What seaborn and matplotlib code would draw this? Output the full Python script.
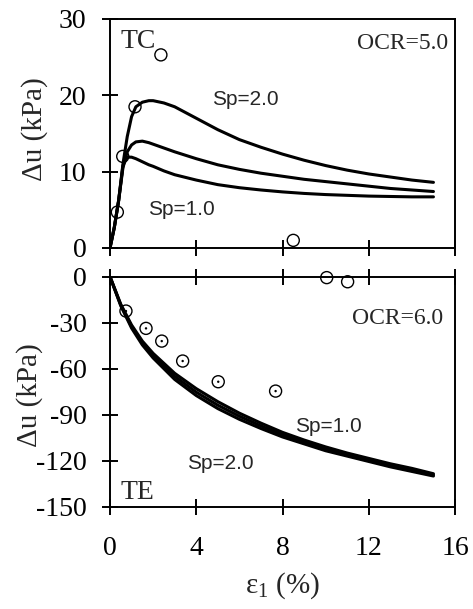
import numpy as np
import pandas as pd
import matplotlib
matplotlib.use("Agg")
import matplotlib.pyplot as plt
import seaborn as sns

# ---------------- data ----------------
tc_strain = [0, 0.2, 0.4, 0.6, 0.8, 1.0, 1.2, 1.5, 1.8, 2.0, 2.5, 3, 4, 5, 6, 7, 8, 9, 10, 11, 12, 13, 14, 15]
tc_sp20 = [0, 2.7, 6.2, 11.0, 14.6, 17.2, 18.5, 19.1, 19.3, 19.3, 19.0, 18.5, 17.0, 15.5, 14.2, 13.2, 12.3, 11.5, 10.8, 10.2, 9.7, 9.3, 8.9, 8.6]
tc_sp15 = [0, 2.7, 6.2, 10.5, 12.6, 13.5, 13.9, 14.0, 13.8, 13.6, 13.1, 12.6, 11.7, 10.9, 10.3, 9.8, 9.4, 9.0, 8.7, 8.4, 8.1, 7.8, 7.6, 7.4]
tc_sp10 = [0, 2.7, 6.2, 10.8, 11.9, 11.9, 11.7, 11.3, 10.9, 10.7, 10.1, 9.6, 8.9, 8.3, 7.9, 7.6, 7.35, 7.15, 7.0, 6.9, 6.8, 6.75, 6.7, 6.7]

tc_obs_x = [0.34, 0.59, 1.16, 2.36, 8.5]
tc_obs_y = [4.7, 12.0, 18.5, 25.3, 1.0]

te_strain = [0, 0.5, 1, 1.5, 2, 3, 4, 5, 6, 7, 8, 9, 10, 11, 12, 13, 14, 15]
te_sp10 = [0, -18, -31.5, -42, -50, -63, -73, -81.5, -89, -95.5, -101.5, -106.5, -111, -115, -118.5, -122, -125, -128.5]
te_sp15 = [0, -18.5, -32.5, -43.3, -51.5, -65, -75.3, -83.8, -91, -97.3, -103, -107.8, -112.3, -116, -119.5, -123, -126, -129.3]
te_sp20 = [0, -19, -33.5, -44.5, -53, -67, -77.5, -86, -93, -99, -104.5, -109, -113.5, -117, -120.5, -124, -127, -130]

te_open_x = [10.05, 11.02]
te_open_y = [-0.6, -3.3]
te_dot_x = [0.74, 1.67, 2.40, 3.37, 5.02, 7.68]
te_dot_y = [-22.4, -33.7, -42.0, -55.0, -68.5, -74.6]

x_ticks = [0, 4, 8, 12, 16]
tc_yticks = [0, 10, 20, 30]
te_yticks = [-150, -120, -90, -60, -30, 0]

# ---------------- style ----------------
sns.set_theme(style="ticks")
plt.rcParams['font.family'] = ['Liberation Serif', 'DejaVu Serif']
plt.rcParams['mathtext.fontset'] = 'custom'
plt.rcParams['mathtext.rm'] = 'Liberation Serif'
plt.rcParams['axes.unicode_minus'] = False

fig = plt.figure(figsize=(4.73, 6.09), dpi=100)
L, W = 110 / 473, 345 / 473
ax1 = fig.add_axes([L, 1 - 248 / 609, W, 229 / 609])
ax2 = fig.add_axes([L, 1 - 506.7 / 609, W, 230 / 609])

tc_df = pd.DataFrame({
    'strain': tc_strain * 3,
    'du': tc_sp10 + tc_sp15 + tc_sp20,
    'Sp': ['1.0'] * len(tc_strain) + ['1.5'] * len(tc_strain) + ['2.0'] * len(tc_strain),
})
te_df = pd.DataFrame({
    'strain': te_strain * 3,
    'du': te_sp10 + te_sp15 + te_sp20,
    'Sp': ['1.0'] * len(te_strain) + ['1.5'] * len(te_strain) + ['2.0'] * len(te_strain),
})
pal = {'1.0': 'black', '1.5': 'black', '2.0': 'black'}

sns.lineplot(data=tc_df, x='strain', y='du', hue='Sp', palette=pal, sort=False,
             linewidth=2.2, legend=False, ax=ax1)
sns.scatterplot(x=tc_obs_x, y=tc_obs_y, marker='o', s=75, facecolor='none',
                edgecolor='black', linewidth=1.0, ax=ax1, zorder=5)

sns.lineplot(data=te_df, x='strain', y='du', hue='Sp', palette=pal, sort=False,
             linewidth=2.2, legend=False, ax=ax2)
sns.scatterplot(x=te_open_x, y=te_open_y, marker='o', s=75, facecolor='none',
                edgecolor='black', linewidth=1.0, ax=ax2, zorder=5, clip_on=False)
sns.scatterplot(x=te_dot_x, y=te_dot_y, marker='o', s=75, facecolor='none',
                edgecolor='black', linewidth=1.0, ax=ax2, zorder=5)
sns.scatterplot(x=te_dot_x, y=te_dot_y, marker='o', s=3, color='black',
                edgecolor='none', ax=ax2, zorder=6)

for ax in (ax1, ax2):
    ax.set_xlim(0, 16)
    ax.set_xticks(x_ticks)
    for sp in ax.spines.values():
        sp.set_linewidth(1.4)
        sp.set_color('black')
    ax.tick_params(direction='inout', length=12, width=1.4, colors='black',
                   labelsize=20, pad=11)
    ax.set_xlabel('')

ax1.set_ylim(0, 30)
ax1.set_yticks(tc_yticks)
ax1.tick_params(axis='x', labelbottom=False)
ax1.set_ylabel('Δu (kPa)', fontsize=21)
ax1.yaxis.set_label_coords(-0.18, 0.52)

ax2.set_ylim(-150, 0)
ax2.set_yticks(te_yticks)
ax2.tick_params(axis='x', top=True, pad=15)
ax2.set_ylabel('Δu (kPa)', fontsize=21)
ax2.yaxis.set_label_coords(-0.195, 0.486)
ax2.set_xlabel(r'ε$_\mathregular{1}$ (%)', fontsize=21, labelpad=7)

# annotations
ax1.text(0.03, 0.955, 'TC', transform=ax1.transAxes, fontsize=20, va='top', ha='left')
ax1.text(0.98, 0.895, 'OCR=5.0', transform=ax1.transAxes, fontsize=17, va='center', ha='right')
ax1.text(4.72, 19.4, 'Sp=2.0', fontsize=15, va='center', ha='left', family='Liberation Sans')
ax1.text(1.76, 5.0, 'Sp=1.0', fontsize=15, va='center', ha='left', family='Liberation Sans')

ax2.text(15.45, -27, 'OCR=6.0', fontsize=17, va='center', ha='right')
ax2.text(8.58, -97.8, 'Sp=1.0', fontsize=15, va='center', ha='left', family='Liberation Sans')
ax2.text(3.56, -122, 'Sp=2.0', fontsize=15, va='center', ha='left', family='Liberation Sans')
ax2.text(0.03, 0.115, 'TE', transform=ax2.transAxes, fontsize=20, va='top', ha='left')

fig.savefig('out.png', dpi=100)
